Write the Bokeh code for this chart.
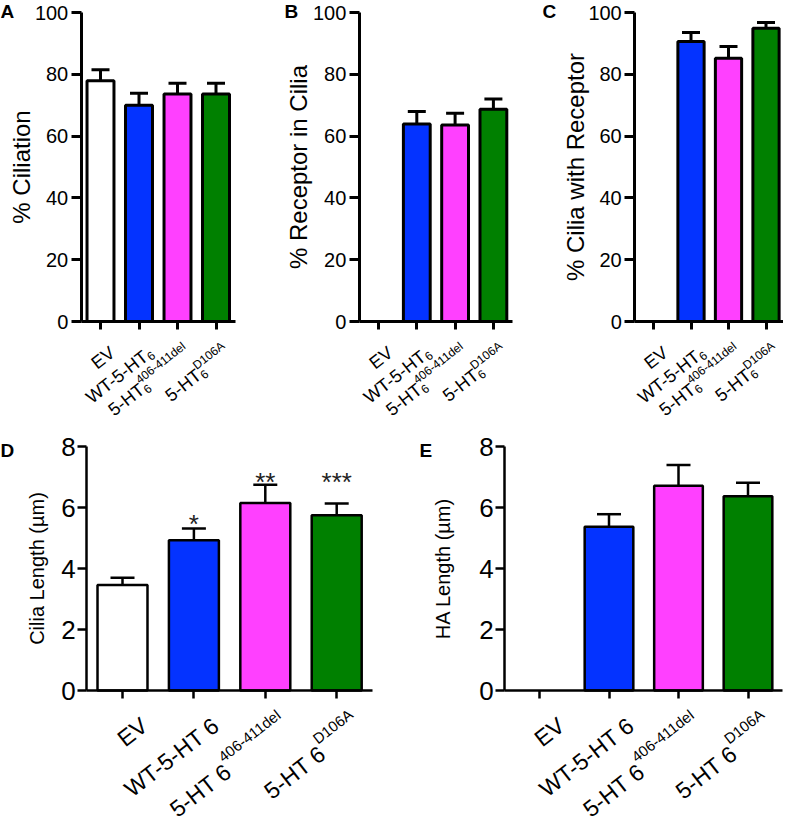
import math
from bokeh.plotting import figure
from bokeh.models import ColumnDataSource, Range1d, FixedTicker, Label
from bokeh.layouts import row, column
from bokeh.embed import file_html
from bokeh.resources import INLINE
from bokeh.core.properties import value

# ---------------- data ----------------
groups = ["EV", "WT-5-HT6", "5-HT6 406-411del", "5-HT6 D106A"]
label_main = ["EV", "WT-5-HT", "5-HT", "5-HT"]
label_sub = ["", "6", "6", "6"]
label_sup = ["", "", "406-411del", "D106A"]
bar_colors = ["#ffffff", "#0433ff", "#ff40ff", "#008000"]

ciliation_mean = [77.9, 70.0, 73.6, 73.6]
ciliation_sem = [3.6, 3.9, 3.5, 3.5]
receptor_in_cilia_mean = [0, 63.9, 63.6, 68.7]
receptor_in_cilia_sem = [0, 4.1, 3.8, 3.3]
cilia_with_receptor_mean = [0, 90.6, 85.2, 94.9]
cilia_with_receptor_sem = [0, 2.9, 3.8, 1.9]
cilia_length_mean = [3.46, 4.93, 6.15, 5.75]
cilia_length_sem = [0.24, 0.38, 0.60, 0.38]
ha_length_mean = [0, 5.37, 6.71, 6.37]
ha_length_sem = [0, 0.41, 0.68, 0.44]
cilia_length_sig = ["", "*", "**", "***"]
cilia_length_sig_y = [0, 5.45, 6.85, 6.85]

pct_ticks = [0, 20, 40, 60, 80, 100]
len_ticks = [0, 2, 4, 6, 8]

# ---------------- style ----------------
FONT = "Liberation Sans"
AW = {'E': 667, 'V': 667, 'W': 944, 'T': 611, '-': 333, '5': 556, 'H': 722,
      '6': 556, ' ': 278, '4': 556, '0': 556, '1': 556, 'd': 556, 'e': 556,
      'l': 222, 'D': 722, 'A': 667}


def text_width(s, fs):
    return sum(AW.get(c, 556) for c in s) / 1000.0 * fs


TOP = dict(T=8, h=428, Y0=329, k=3.09, tick_fs="20px", lab_fs="24px",
           tick_out=10, tick_std=3, xtick_out=8, lw=3, cap=18, fs=18, fss=12,
           angle=math.radians(38), pdx=12, pdy=29, d_sub=4, d_sup=8,
           inline_sub=False)
BOT = dict(T=436, h=389, Y0=698, k=30.5, tick_fs="26px", lab_fs="20px",
           tick_out=9, tick_std=2, xtick_out=8, lw=2.5, cap=24, fs=23, fss=15,
           angle=math.radians(38), pdx=22, pdy=32, d_sub=0, d_sup=13,
           inline_sub=True)


def make_panel(letter, mean, sem, ylabel, ymax, ticks, st, F, w, X0, s,
               lab_std, letter_page):
    n = len(groups)
    xpos = list(range(n))
    xs0 = -(X0 - F) / s
    k = st['k']
    ye = (st['Y0'] - st['T']) / k
    p = figure(x_range=Range1d(xs0, xs0 + w / s),
               y_range=Range1d(ye - st['h'] / k, ye),
               width=w, height=st['h'], output_backend="svg",
               toolbar_location=None, min_border=0)
    p.outline_line_color = None
    p.xgrid.visible = False
    p.ygrid.visible = False

    idx = [i for i in range(n) if mean[i] > 0]
    hw = st['cap'] / 2.0 / s
    src = ColumnDataSource(dict(
        x=[xpos[i] for i in idx],
        xl=[xpos[i] - hw for i in idx],
        xr=[xpos[i] + hw for i in idx],
        top=[mean[i] for i in idx],
        upper=[mean[i] + sem[i] for i in idx],
        color=[bar_colors[i] for i in idx]))
    # error bars (upper only) with caps
    p.segment(x0="x", y0="top", x1="x", y1="upper", line_width=st['lw'],
              line_color="black", source=src)
    p.segment(x0="xl", y0="upper", x1="xr", y1="upper", line_width=st['lw'],
              line_color="black", source=src)
    p.vbar(x="x", top="top", bottom=0, width=0.7, fill_color="color",
           line_color="black", line_width=st['lw'], source=src)

    yax = p.yaxis[0]
    yax.fixed_location = -0.5
    yax.bounds = (0, ymax)
    yax.ticker = FixedTicker(ticks=ticks)
    yax.minor_tick_line_color = None
    yax.axis_label = ylabel
    yax.axis_label_text_font = FONT
    yax.axis_label_text_font_size = st['lab_fs']
    yax.axis_label_text_font_style = "normal"
    yax.axis_label_text_color = "black"
    yax.axis_label_standoff = lab_std
    yax.major_label_text_font = FONT
    yax.major_label_text_font_size = st['tick_fs']
    yax.major_label_text_color = "black"
    yax.major_label_standoff = st['tick_std']
    yax.major_tick_out = st['tick_out']
    yax.major_tick_in = 0
    yax.axis_line_width = st['lw']
    yax.major_tick_line_width = st['lw']

    xax = p.xaxis[0]
    xax.fixed_location = 0
    xax.bounds = (-0.5, n - 0.5)
    xax.ticker = FixedTicker(ticks=xpos)
    xax.minor_tick_line_color = None
    xax.major_label_text_color = None
    xax.major_tick_out = st['xtick_out']
    xax.major_tick_in = 0
    xax.axis_line_width = st['lw']
    xax.major_tick_line_width = st['lw']

    # rotated category labels with sub/superscripts
    a = st['angle']
    ca, sa = math.cos(a), math.sin(a)
    fs, fss = st['fs'], st['fss']
    cols = {"right": dict(x=[], y=[], text=[], size=[]),
            "left": dict(x=[], y=[], text=[], size=[])}
    for i in range(n):
        if st['inline_sub']:
            main = label_main[i] + (" " + label_sub[i] if label_sub[i] else "")
            sub = ""
        else:
            main = label_main[i]
            sub = label_sub[i]
        sup = label_sup[i]
        tail = max(text_width(sub, fss), text_width(sup, fss))
        mx = st['pdx'] - tail * ca
        my = st['pdy'] + tail * sa
        parts = [(main, fs, "right", mx, my)]
        if sub:
            parts.append((sub, fss, "left", mx + st['d_sub'] * sa,
                          my + st['d_sub'] * ca))
        if sup:
            parts.append((sup, fss, "left", mx - st['d_sup'] * sa,
                          my - st['d_sup'] * ca))
        for t, f, al, bx, by in parts:
            d = cols[al]
            d["x"].append(xpos[i] + bx / s)
            d["y"].append(-by / k)
            d["text"].append(t)
            d["size"].append(f"{f}px")
    for al, d in cols.items():
        p.text(x="x", y="y", text="text", angle=a, text_align=al,
               text_baseline="alphabetic", text_font=value(FONT),
               text_font_size="size", text_color="black",
               source=ColumnDataSource(d))

    lx, ly = letter_page
    p.add_layout(Label(x=lx - F, y=st['h'] - (ly - st['T']), x_units="screen",
                       y_units="screen", text=letter, text_font=FONT,
                       text_font_style="bold", text_font_size="19px",
                       text_baseline="top", text_align="left",
                       text_color="black"))
    return p


pA = make_panel("A", ciliation_mean, ciliation_sem, "% Ciliation", 100,
                pct_ticks, TOP, 8, 262, 108, 38.5, -3, (8, 8))
pB = make_panel("B", receptor_in_cilia_mean, receptor_in_cilia_sem,
                "% Receptor in Cilia", 100, pct_ticks, TOP, 270, 260, 386, 38.3,
                -2, (292, 8))
pC = make_panel("C", cilia_with_receptor_mean, cilia_with_receptor_sem,
                "% Cilia with Receptor", 100, pct_ticks, TOP, 530, 261, 661, 37.5,
                -4, (550, 8))
pD = make_panel("D", cilia_length_mean, cilia_length_sem, "Cilia Length (µm)", 8,
                len_ticks, BOT, 8, 410, 130, 71.4, 10, (8, 447))
pE = make_panel("E", ha_length_mean, ha_length_sem, "HA Length (µm)", 8,
                len_ticks, BOT, 418, 373, 547, 69.5, 22, (427, 447))

sig_idx = [i for i in range(len(groups)) if cilia_length_sig[i]]
pD.text(x=sig_idx, y=[cilia_length_sig_y[i] for i in sig_idx],
        text=[cilia_length_sig[i] for i in sig_idx], text_font=value(FONT),
        text_font_size="26px", text_align="center", text_baseline="alphabetic",
        text_color="#222222")

layout = column(row(pA, pB, pC), row(pD, pE))
open("out.html", "w").write(file_html(layout, INLINE))
